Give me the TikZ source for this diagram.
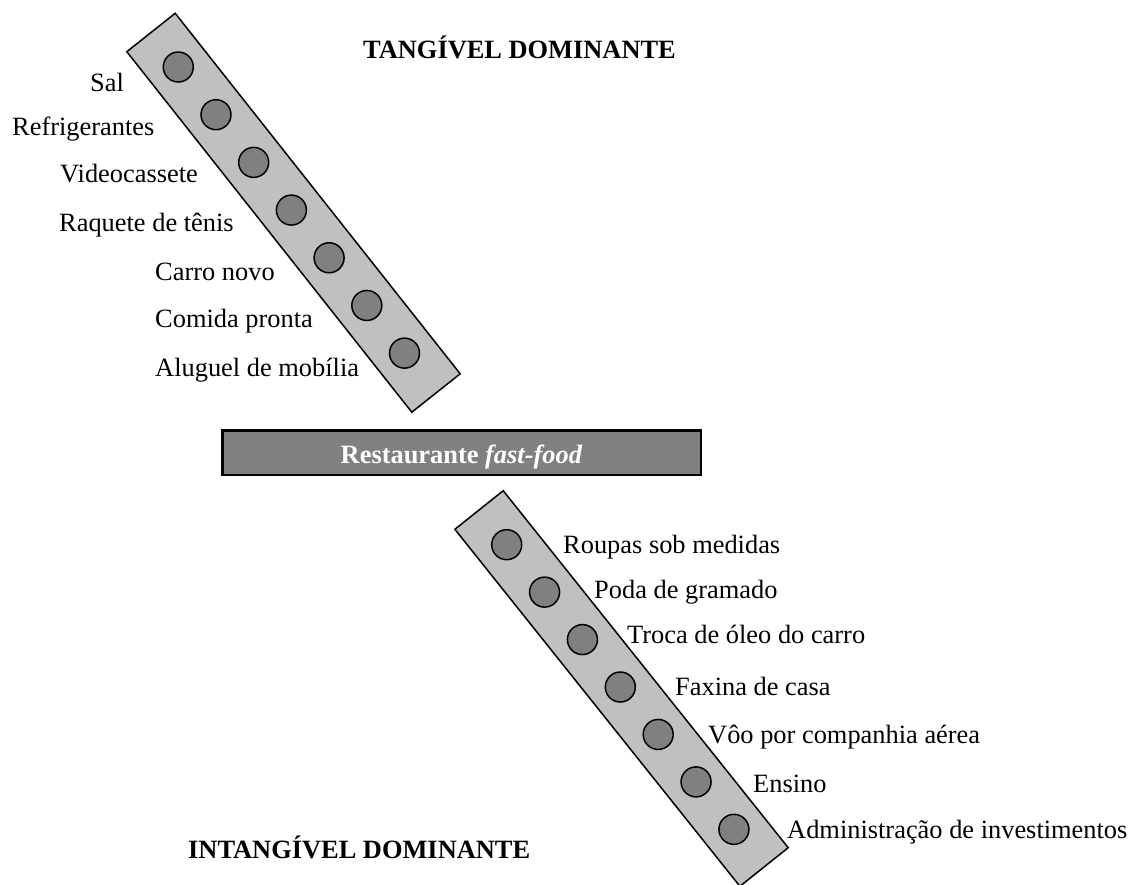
\documentclass[tikz,border=0pt]{standalone}
\usepackage{fontspec}
\setmainfont{Liberation Serif}
\usetikzlibrary{calc}
\definecolor{bandgray}{HTML}{C0C0C0}
\definecolor{dotgray}{HTML}{808080}
\begin{document}
\begin{tikzpicture}[x=1pt,y=-1pt,
  every node/.style={font=\fontsize{26.4}{30}\selectfont},
  band/.style={draw=black, line width=1.5pt, fill=bandgray, line join=miter},
  dot/.style={circle, draw=black, line width=1.5pt, fill=dotgray, minimum size=30pt, inner sep=0pt},
  lbl/.style={anchor=base west, inner sep=0pt},
  head/.style={anchor=base west, inner sep=0pt, font=\fontsize{26.4}{30}\selectfont\bfseries},
  rectbox/.style={draw=black, line width=2.5pt, fill=dotgray, minimum width=478.5pt, minimum height=44.5pt, inner sep=0pt},
  resttext/.style={anchor=base, inner sep=0pt, text=white, font=\fontsize{26.4}{30}\selectfont\bfseries}]
\useasboundingbox (0,0) rectangle (1133,885);

% upper band (tangible)
\coordinate (ta1) at (151,32.5);
\coordinate (ta2) at (436,393);
\draw[band] (175.2,13.3) -- (460.2,373.8) -- (411.8,412.2) -- (126.8,51.7) -- cycle;
\foreach \k in {0,...,6}
  \node[dot] (t\k) at ($(ta1)!{(44+\k*60.8)/459.6}!(ta2)$) {};

% lower band (intangible)
\coordinate (ba1) at (479,510);
\coordinate (ba2) at (764,867);
\draw[band] (503.2,490.7) -- (788.2,847.7) -- (739.9,886.3) -- (454.9,529.3) -- cycle;
\foreach \k in {0,...,6}
  \node[dot] (b\k) at ($(ba1)!{(44.4+\k*60.7)/456.8}!(ba2)$) {};

% headings
\node[head] (htang) at (363,59) {TANGÍVEL DOMINANTE};
\node[head] (hintang) at (188,858) {INTANGÍVEL DOMINANTE};

% left labels
\node[lbl] (l0) at (90,92) {Sal};
\node[lbl] (l1) at (12,136) {Refrigerantes};
\node[lbl] (l2) at (60,183) {Videocassete};
\node[lbl] (l3) at (59,232) {Raquete de tênis};
\node[lbl] (l4) at (155,281) {Carro novo};
\node[lbl] (l5) at (155,328) {Comida pronta};
\node[lbl] (l6) at (155,377) {Aluguel de mobília};

% middle box
\node[rectbox] (rest) at (461.5,452.5) {};
\node[resttext] (restlbl) at (461.5,463) {Restaurante \textit{fast-food}};

% right labels
\node[lbl] (r0) at (563,553) {Roupas sob medidas};
\node[lbl] (r1) at (594,598) {Poda de gramado};
\node[lbl] (r2) at (627,643) {Troca de óleo do carro};
\node[lbl] (r3) at (675,695) {Faxina de casa};
\node[lbl] (r4) at (708,743) {Vôo por companhia aérea};
\node[lbl] (r5) at (753,792) {Ensino};
\node[lbl] (r6) at (787,838) {Administração de investimentos};
\end{tikzpicture}
\end{document}
